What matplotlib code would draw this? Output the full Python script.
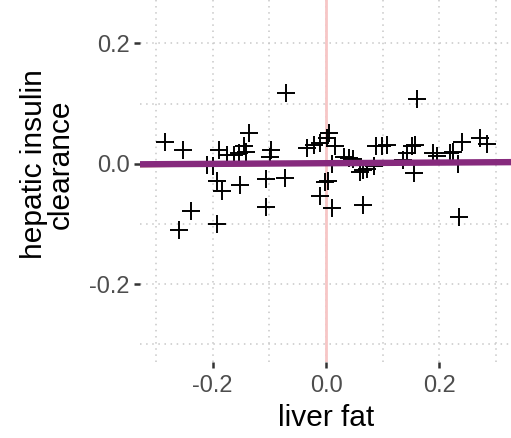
import numpy as np
import matplotlib.pyplot as plt
from matplotlib.ticker import MultipleLocator

plt.rcParams['font.family'] = ['Liberation Sans', 'DejaVu Sans']

# liver fat vs hepatic insulin clearance (residuals)
liver_fat = [-0.284, -0.253, -0.260, -0.238, -0.192, -0.210, -0.199, -0.189, -0.192, -0.183,
             -0.152, -0.174, -0.163, -0.153, -0.144, -0.135, -0.141, -0.106, -0.106, -0.073,
             -0.097, -0.099, -0.071, -0.034, -0.022, -0.010, 0.006, 0.001, 0.016, 0.004,
             -0.002, -0.011, 0.010, 0.010, 0.031, 0.048, 0.060, 0.072, 0.084, 0.089,
             0.107, 0.066, 0.136, 0.142, 0.151, 0.157, 0.155, 0.161, 0.189, 0.195,
             0.218, 0.224, 0.233, 0.239, 0.235, 0.271, 0.283, 0.098, 0.040, 0.065]
hic = [0.037, 0.023, -0.110, -0.079, -0.100, -0.002, -0.004, 0.023, -0.029, -0.046,
       -0.035, 0.015, 0.015, 0.018, 0.029, 0.051, 0.020, -0.025, -0.072, -0.024,
       0.023, 0.012, 0.118, 0.026, 0.032, 0.035, 0.051, 0.043, 0.029, -0.029,
       -0.031, -0.053, -0.074, -0.001, 0.012, 0.008, -0.013, -0.008, -0.003, 0.029,
       0.032, -0.068, 0.007, 0.018, 0.029, 0.032, -0.015, 0.107, 0.018, 0.013,
       0.018, 0.020, -0.001, 0.037, -0.088, 0.043, 0.033, 0.029, 0.010, -0.010]

fit_x = [-0.33, 0.33]
fit_y = [-0.0008, 0.0028]
fit2_y = [-0.0045, 0.002]

fig = plt.figure(figsize=(5.11, 4.38), dpi=100)
ax = fig.add_axes([0.274, 0.174, 0.728, 0.904])

ax.xaxis.set_major_locator(MultipleLocator(0.2))
ax.xaxis.set_minor_locator(MultipleLocator(0.1))
ax.yaxis.set_major_locator(MultipleLocator(0.2))
ax.yaxis.set_minor_locator(MultipleLocator(0.1))
ax.grid(which='both', color='#c8c8c8', linestyle=(0, (1, 3)), linewidth=1.1)
ax.set_axisbelow(True)

ax.axvline(0, color='#f7c6c6', linewidth=2, zorder=1)
ax.scatter(liver_fat, hic, marker='+', s=150, color='black', linewidths=1.4, zorder=3)
ax.plot(fit_x, fit2_y, color='#b5651d', linewidth=1.2, zorder=4)
ax.plot(fit_x, fit_y, color='#862a7d', linewidth=4.6, solid_capstyle='butt', zorder=5)

ax.set_xlim(-0.328, 0.328)
ax.set_ylim(-0.329, 0.329)
ax.set_xticks([-0.2, 0.0, 0.2])
ax.set_yticks([-0.2, 0.0, 0.2])
ax.set_xticklabels(['-0.2', '0.0', '0.2'])
ax.set_yticklabels(['-0.2', '0.0', '0.2'])
for s in ax.spines.values():
    s.set_visible(False)
ax.tick_params(which='major', length=4.5, width=1.8, color='#333333',
               labelsize=17, labelcolor='#4d4d4d', pad=3)
ax.tick_params(axis='x', pad=5)
ax.tick_params(which='minor', length=0)

ax.set_xlabel('liver fat', fontsize=21.5, labelpad=5)
ax.set_ylabel('hepatic insulin\nclearance', fontsize=21.5, labelpad=10, linespacing=0.95)

fig.savefig('out.png', dpi=100)
